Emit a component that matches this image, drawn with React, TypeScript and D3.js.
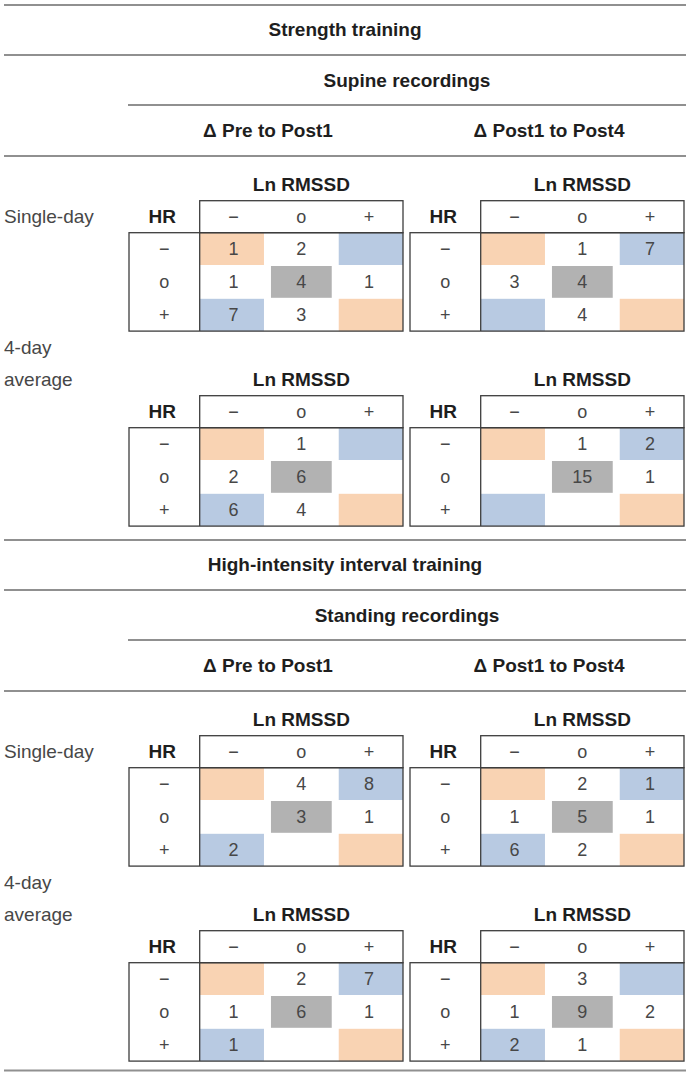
import React from "react";
import * as d3 from "d3";

// ---------- data ----------
const levels = ["−", "o", "+"];
const sectionTitles = ["Strength training", "High-intensity interval training"];
const recordingTitles = ["Supine recordings", "Standing recordings"];
const periodLabels = ["Δ Pre to Post1", "Δ Post1 to Post4"];
const averagingLabels = [["Single-day"], ["4-day", "average"]];
const columnTitle = "Ln RMSSD";
const rowTitle = "HR";

// rows = HR (−, o, +), columns = Ln RMSSD (−, o, +); null = empty cell
const strengthSinglePre = [[1, 2, null], [1, 4, 1], [7, 3, null]];
const strengthSinglePost = [[null, 1, 7], [3, 4, null], [null, 4, null]];
const strengthAvgPre = [[null, 1, null], [2, 6, null], [6, 4, null]];
const strengthAvgPost = [[null, 1, 2], [null, 15, 1], [null, null, null]];
const hiitSinglePre = [[null, 4, 8], [null, 3, 1], [2, null, null]];
const hiitSinglePost = [[null, 2, 1], [1, 5, 1], [6, 2, null]];
const hiitAvgPre = [[null, 2, 7], [1, 6, 1], [1, null, null]];
const hiitAvgPost = [[null, 3, null], [1, 9, 2], [2, 1, null]];

// cell highlight category: "o" orange, "b" blue, "g" gray, "" none
const highlight = [
  ["o", "", "b"],
  ["", "g", ""],
  ["b", "", "o"],
];

const sections = [
  [
    [strengthSinglePre, strengthSinglePost],
    [strengthAvgPre, strengthAvgPost],
  ],
  [
    [hiitSinglePre, hiitSinglePost],
    [hiitAvgPre, hiitAvgPost],
  ],
];

// ---------- styles ----------
const W = 690;
const H = 1075;
const fillColor: Record<string, string> = {
  o: "#f9d3b3",
  b: "#b8cae2",
  g: "#b2b2b2",
};
const ruleColor = "#909090";
const frameColor = "#3d3d3d";
const boldFont = "'Liberation Sans', Arial, sans-serif";
const lightFont = "'Liberation Sans', Arial, sans-serif";
const textColor = "#1e1e1e";
const numColor = "#474747";
const boldSize = 19;
const numSize = 18;

const sectionOffsets = [0, 535];
const tableXs = [
  [129, 403],
  [410, 684],
];
const labelColW = 70.7;
const headerH = 32;
const bodyH = 98.4;
const tableTops = [200.7, 395.7];

function Table({ left, right, top, values }: { left: number; right: number; top: number; values: (number | null)[][] }) {
  const dataX0 = left + labelColW;
  const x = d3.scaleBand<string>().domain(levels).range([dataX0, right]);
  const y = d3.scaleBand<string>().domain(levels).range([top + headerH, top + headerH + bodyH]);
  const bw = x.bandwidth();
  const bh = y.bandwidth();
  const inX = 3.5;
  const inY = 0.5;
  const bottom = top + headerH + bodyH;
  return (
    <g>
      {levels.map((rl, r) =>
        levels.map((cl, c) => {
          const h = highlight[r][c];
          if (!h) return null;
          const x0 = (x(cl) as number) + (c > 0 ? inX : 0);
          const x1 = (x(cl) as number) + bw - (c < 2 ? inX : 0);
          const y0 = (y(rl) as number) + (r > 0 ? inY : 0);
          const y1 = (y(rl) as number) + bh - (r < 2 ? inY : 0);
          return <rect key={`f${r}${c}`} x={x0} y={y0} width={x1 - x0} height={y1 - y0} fill={fillColor[h]} />;
        })
      )}
      {/* frames */}
      <rect x={dataX0} y={top} width={right - dataX0} height={headerH} fill="none" stroke={frameColor} strokeWidth={1.3} />
      <rect x={left} y={top + headerH} width={right - left} height={bodyH} fill="none" stroke={frameColor} strokeWidth={1.3} />
      <line x1={dataX0} x2={dataX0} y1={top + headerH} y2={bottom} stroke={frameColor} strokeWidth={1.3} />
      {/* titles */}
      <text x={(dataX0 + right) / 2} y={top - 16} textAnchor="middle" dominantBaseline="central" fontFamily={boldFont} fontWeight="bold" fontSize={boldSize} fill={textColor}>
        {columnTitle}
      </text>
      <text x={(left + dataX0) / 2 - 2} y={top + headerH / 2} textAnchor="middle" dominantBaseline="central" fontFamily={boldFont} fontWeight="bold" fontSize={boldSize} fill={textColor}>
        {rowTitle}
      </text>
      {levels.map((cl) => (
        <text key={`c${cl}`} x={(x(cl) as number) + bw / 2} y={top + headerH / 2} textAnchor="middle" dominantBaseline="central" fontFamily={lightFont} fontSize={numSize} fill={numColor}>
          {cl}
        </text>
      ))}
      {levels.map((rl) => (
        <text key={`r${rl}`} x={(left + dataX0) / 2} y={(y(rl) as number) + bh / 2} textAnchor="middle" dominantBaseline="central" fontFamily={lightFont} fontSize={numSize} fill={numColor}>
          {rl}
        </text>
      ))}
      {levels.map((rl, r) =>
        levels.map((cl, c) => {
          const v = values[r][c];
          if (v === null) return null;
          return (
            <text key={`v${r}${c}`} x={(x(cl) as number) + bw / 2} y={(y(rl) as number) + bh / 2} textAnchor="middle" dominantBaseline="central" fontFamily={lightFont} fontSize={numSize} fill={numColor}>
              {v}
            </text>
          );
        })
      )}
    </g>
  );
}

export default function App() {
  return (
    <svg width={W} height={H} style={{ position: "absolute", left: 0, top: 0, background: "#fff" }}>
      <rect x={0} y={0} width={W} height={H} fill="#fff" />
      {sections.map((sec, s) => {
        const y0 = sectionOffsets[s];
        return (
          <g key={s}>
            <line x1={4} x2={686} y1={y0 + 5} y2={y0 + 5} stroke={ruleColor} strokeWidth={2} />
            <text x={345} y={y0 + 29} textAnchor="middle" dominantBaseline="central" fontFamily={boldFont} fontWeight="bold" fontSize={boldSize} fill={textColor}>
              {sectionTitles[s]}
            </text>
            <line x1={4} x2={686} y1={y0 + 55} y2={y0 + 55} stroke={ruleColor} strokeWidth={2} />
            <text x={407} y={y0 + 80} textAnchor="middle" dominantBaseline="central" fontFamily={boldFont} fontWeight="bold" fontSize={boldSize} fill={textColor}>
              {recordingTitles[s]}
            </text>
            <line x1={128} x2={686} y1={y0 + 105} y2={y0 + 105} stroke={ruleColor} strokeWidth={2} />
            {periodLabels.map((p, i) => (
              <text key={p} x={(tableXs[i][0] + tableXs[i][1]) / 2 + 2} y={y0 + 130} textAnchor="middle" dominantBaseline="central" fontFamily={boldFont} fontWeight="bold" fontSize={boldSize} fill={textColor}>
                {p}
              </text>
            ))}
            <line x1={4} x2={686} y1={y0 + 156} y2={y0 + 156} stroke={ruleColor} strokeWidth={2} />
            {/* averaging labels */}
            <text x={4} y={y0 + tableTops[0] + 16} dominantBaseline="central" fontFamily={lightFont} fontSize={numSize + 1} fill={numColor}>
              {averagingLabels[0][0]}
            </text>
            <text x={4} y={y0 + tableTops[1] - 48} dominantBaseline="central" fontFamily={lightFont} fontSize={numSize + 1} fill={numColor}>
              {averagingLabels[1][0]}
            </text>
            <text x={4} y={y0 + tableTops[1] - 16.5} dominantBaseline="central" fontFamily={lightFont} fontSize={numSize + 1} fill={numColor}>
              {averagingLabels[1][1]}
            </text>
            {sec.map((avg, a) =>
              avg.map((vals, p) => (
                <Table key={`${a}${p}`} left={tableXs[p][0]} right={tableXs[p][1]} top={y0 + tableTops[a]} values={vals} />
              ))
            )}
          </g>
        );
      })}
      <line x1={4} x2={686} y1={1070.5} y2={1070.5} stroke={ruleColor} strokeWidth={2} />
    </svg>
  );
}
